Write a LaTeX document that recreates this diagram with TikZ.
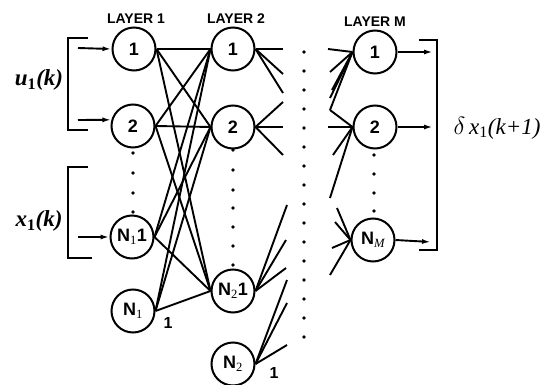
\documentclass[tikz,border=0pt]{standalone}
\usepackage{fontspec}
\setmainfont{Liberation Serif}
\setsansfont{Liberation Sans}
\usetikzlibrary{arrows.meta}
\begin{document}
\begin{tikzpicture}[x=1pt,y=-1pt,
  neuron/.style={draw,circle,line width=2pt,minimum size=43pt,inner sep=0pt,font=\sffamily\bfseries\fontsize{18}{18}\selectfont},
  wire/.style={line width=1.9pt},
  inarrow/.style={line width=1.9pt,-{Latex[length=9pt,width=5pt]}},
  layerlbl/.style={font=\sffamily\bfseries\fontsize{14}{14}\selectfont},
  sig/.style={font=\bfseries\itshape\fontsize{23}{23}\selectfont},
  dotmark/.style={fill,circle,inner sep=0pt,minimum size=3.6pt}]
\useasboundingbox (0,0) rectangle (544,385);
% layer 1
\node[neuron] (a1) at (134,49) {1};
\node[neuron] (a2) at (133,126) {2};
\node[neuron] (a3) at (132,237) {N\textsubscript{\normalfont 1}1};
\node[neuron] (a4) at (133,311) {N\textsubscript{\normalfont 1}};
% layer 2
\node[neuron] (b1) at (233,49) {1};
\node[neuron] (b2) at (233,127) {2};
\node[neuron] (b3) at (233,291) {N\textsubscript{\normalfont 2}1};
\node[neuron] (b4) at (233,364) {N\textsubscript{\normalfont 2}};
% layer M
\node[neuron] (m1) at (375,52) {1};
\node[neuron] (m2) at (375,127) {2};
\node[neuron] (m3) at (373,240) {N\textsubscript{\normalfont\itshape M}};
% layer labels
\node[layerlbl] (l1) at (136,19) {LAYER 1};
\node[layerlbl] (l2) at (236,19) {LAYER 2};
\node[layerlbl] (lm) at (375,22) {LAYER M};
% bias labels
\node[font=\sffamily\bfseries\fontsize{16}{16}\selectfont] (o1) at (168,323) {1};
\node[font=\sffamily\bfseries\fontsize{16}{16}\selectfont] (o2) at (274,373) {1};
% signal labels
\node[sig] (u) at (39,80) {u\textsubscript{\upshape 1}(k)};
\node[sig] (x) at (39,221) {x\textsubscript{\upshape 1}(k)};
\node[font=\itshape\fontsize{23}{23}\selectfont] (dx) at (497,128) {$\delta$\,x\textsubscript{\upshape 1}(k+1)};
% brackets
\draw[line width=2pt] (88,38) -- (68,38) -- (68,130) -- (88,130);
\draw[line width=2pt] (88,167) -- (68,167) -- (68,258) -- (92,258);
\draw[line width=2pt] (419,40) -- (437,40) -- (437,250) -- (419,250);
% input arrows
\coordinate (i1) at (78,48);
\coordinate (i2) at (78,120);
\coordinate (i3) at (78,237);
\draw[inarrow] (i1) -- (a1.west);
\draw[inarrow] (i2) -- (a2.164);
\draw[inarrow] (i3) -- (a3.west);
% output arrows
\coordinate (e1) at (433,52);
\coordinate (e2) at (433,127);
\coordinate (e3) at (431,242);
\draw[inarrow] (m1.east) -- (e1);
\draw[inarrow] (m2.east) -- (e2);
\draw[inarrow] (m3.east) -- (e3);
% full connections layer 1 -> layer 2
\foreach \s in {a1,a2,a3,a4}{
  \foreach \t in {b1,b2,b3}{
    \draw[wire] (\s.east) -- (\t.west);
  }
}
% fragments out of layer 2
\foreach \p/\n in {283/49,283/74,283/93}{\coordinate (f) at (\p,\n); \draw[wire] (b1.east) -- (f);}
\foreach \p/\n in {283/102,283/127,283/155}{\coordinate (f) at (\p,\n); \draw[wire] (b2.east) -- (f);}
\foreach \p/\n in {287/205,286/240,286/268}{\coordinate (f) at (\p,\n); \draw[wire] (b3.east) -- (f);}
\foreach \p/\n in {287/280,287/303,287/345}{\coordinate (f) at (\p,\n); \draw[wire] (b4.east) -- (f);}
% fragments into layer M
\foreach \p/\n in {328/49,330/72,332/90,330/98,330/110}{\coordinate (g) at (\p,\n); \draw[wire] (g) -- (m1.west);}
\foreach \p/\n in {330/110,328/127,333/155,330/198}{\coordinate (g) at (\p,\n); \draw[wire] (g) -- (m2.west);}
\foreach \p/\n in {337/208,335/222,332/248,330/275}{\coordinate (g) at (\p,\n); \draw[wire] (g) -- (m3.west);}
% dots
\foreach \n in {0,...,15}{\node[dotmark] at (304,52+19*\n) {};}
\foreach \n in {153,173,193,212}{\node[dotmark] at (133,\n) {};}
\foreach \n in {150,170,190,208,227,246,265}{\node[dotmark] at (233,\n) {};}
\foreach \n in {155,174,193,211}{\node[dotmark] at (374,\n) {};}
\end{tikzpicture}
\end{document}
